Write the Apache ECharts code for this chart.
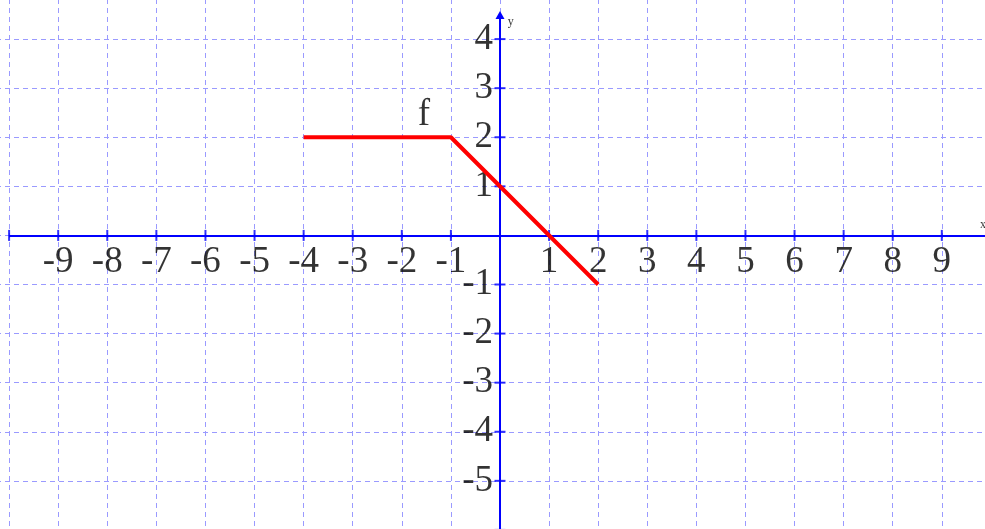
<!DOCTYPE html>
<html>
<head>
<meta charset="utf-8">
<script src="https://cdn.jsdelivr.net/npm/echarts@6/dist/echarts.min.js"></script>
<style>
  html, body { margin: 0; padding: 0; background: #fff; }
  #chart { width: 985px; height: 529px; }
</style>
</head>
<body>
<div id="chart"></div>
<script>
// Piecewise function f: flat at 2, then falling with slope -1
const fX = [-4, -1, 2];
const fY = [2, 2, -1];

// Tick positions drawn on the axes
const xTicks = [-10, -9, -8, -7, -6, -5, -4, -3, -2, -1, 1, 2, 3, 4, 5, 6, 7, 8, 9, 10];
const yTicks = [-6, -5, -4, -3, -2, -1, 1, 2, 3, 4];

// Numbered tick labels
const xTickLabels = [-9, -8, -7, -6, -5, -4, -3, -2, -1, 1, 2, 3, 4, 5, 6, 7, 8, 9];
const yTickLabels = [-5, -4, -3, -2, -1, 1, 2, 3, 4];

// Function name placed beside the curve, and axis names
const fName = { text: 'f', x: -1.55, y: 2.45 };
const xName = { text: 'x', x: 9.84, y: 0.21 };
const yName = { text: 'y', x: 0.22, y: 4.35 };

// Axis line extents
const xAxisEnds = [-10, 11];
const yAxisEnds = [-7, 4.49];

const serif = '"Liberation Serif", "DejaVu Serif", serif';
const gridColor = '#9a9aff';
const axisBlue = '#0000ff';
const ink = '#000000';

const chart = echarts.init(document.getElementById('chart'));

chart.setOption({
  animation: false,
  backgroundColor: '#ffffff',
  grid: {
    left: -40, top: -10, width: 1080, height: 589,
    containLabel: false, outerBoundsMode: 'none'
  },
  xAxis: {
    type: 'value', min: -11, max: 11, interval: 1,
    axisLine: { show: false },
    axisTick: { show: false },
    axisLabel: { show: false },
    splitLine: { show: true, lineStyle: { color: gridColor, width: 1, type: [5, 4] } }
  },
  yAxis: {
    type: 'value', min: -7, max: 5, interval: 1,
    axisLine: { show: false },
    axisTick: { show: false },
    axisLabel: { show: false },
    splitLine: { show: true, lineStyle: { color: gridColor, width: 1, type: [5, 4] } }
  },
  series: [
    {
      // axis lines with an arrow at the top of the y axis
      type: 'line', data: [], silent: true,
      markLine: {
        silent: true, animation: false,
        label: { show: false },
        lineStyle: { color: axisBlue, width: 2, type: 'solid' },
        data: [
          [{ coord: [xAxisEnds[0], 0], symbol: 'none' }, { coord: [xAxisEnds[1], 0], symbol: 'none' }],
          [{ coord: [0, yAxisEnds[0]], symbol: 'none' }, { coord: [0, yAxisEnds[1]], symbol: 'triangle', symbolSize: [9, 8] }]
        ]
      }
    },
    {
      // tick marks crossing the x axis
      type: 'scatter', silent: true,
      symbol: 'rect', symbolSize: [2, 11],
      itemStyle: { color: axisBlue },
      data: xTicks.map(v => [v, 0])
    },
    {
      // tick marks crossing the y axis
      type: 'scatter', silent: true,
      symbol: 'rect', symbolSize: [11, 2],
      itemStyle: { color: axisBlue },
      data: yTicks.map(v => [0, v])
    },
    {
      // numbers under the x axis
      type: 'scatter', silent: true, symbolSize: 0,
      data: xTickLabels.map(v => [v, 0]),
      label: {
        show: true, position: 'bottom', distance: 8,
        formatter: p => String(p.value[0]),
        fontFamily: serif, fontSize: 37, color: ink
      },
      z: 4
    },
    {
      // numbers left of the y axis
      type: 'scatter', silent: true, symbolSize: 0,
      data: yTickLabels.map(v => [0, v]),
      label: {
        show: true, position: 'left', distance: 7,
        formatter: p => String(p.value[1]),
        fontFamily: serif, fontSize: 37, color: ink
      },
      z: 4
    },
    {
      name: 'f',
      type: 'line',
      data: fX.map((x, i) => [x, fY[i]]),
      showSymbol: false,
      lineStyle: { color: '#ff0000', width: 4 },
      itemStyle: { color: '#ff0000' },
      z: 5
    },
    {
      // text labels for the function and axis names
      type: 'scatter', silent: true, symbolSize: 0,
      data: [
        { value: [fName.x, fName.y], label: { formatter: fName.text, fontSize: 37 } },
        { value: [xName.x, xName.y], label: { formatter: xName.text, fontSize: 12 } },
        { value: [yName.x, yName.y], label: { formatter: yName.text, fontSize: 12 } }
      ],
      label: { show: true, position: 'inside', fontFamily: serif, color: ink }
    }
  ]
});
</script>
</body>
</html>
